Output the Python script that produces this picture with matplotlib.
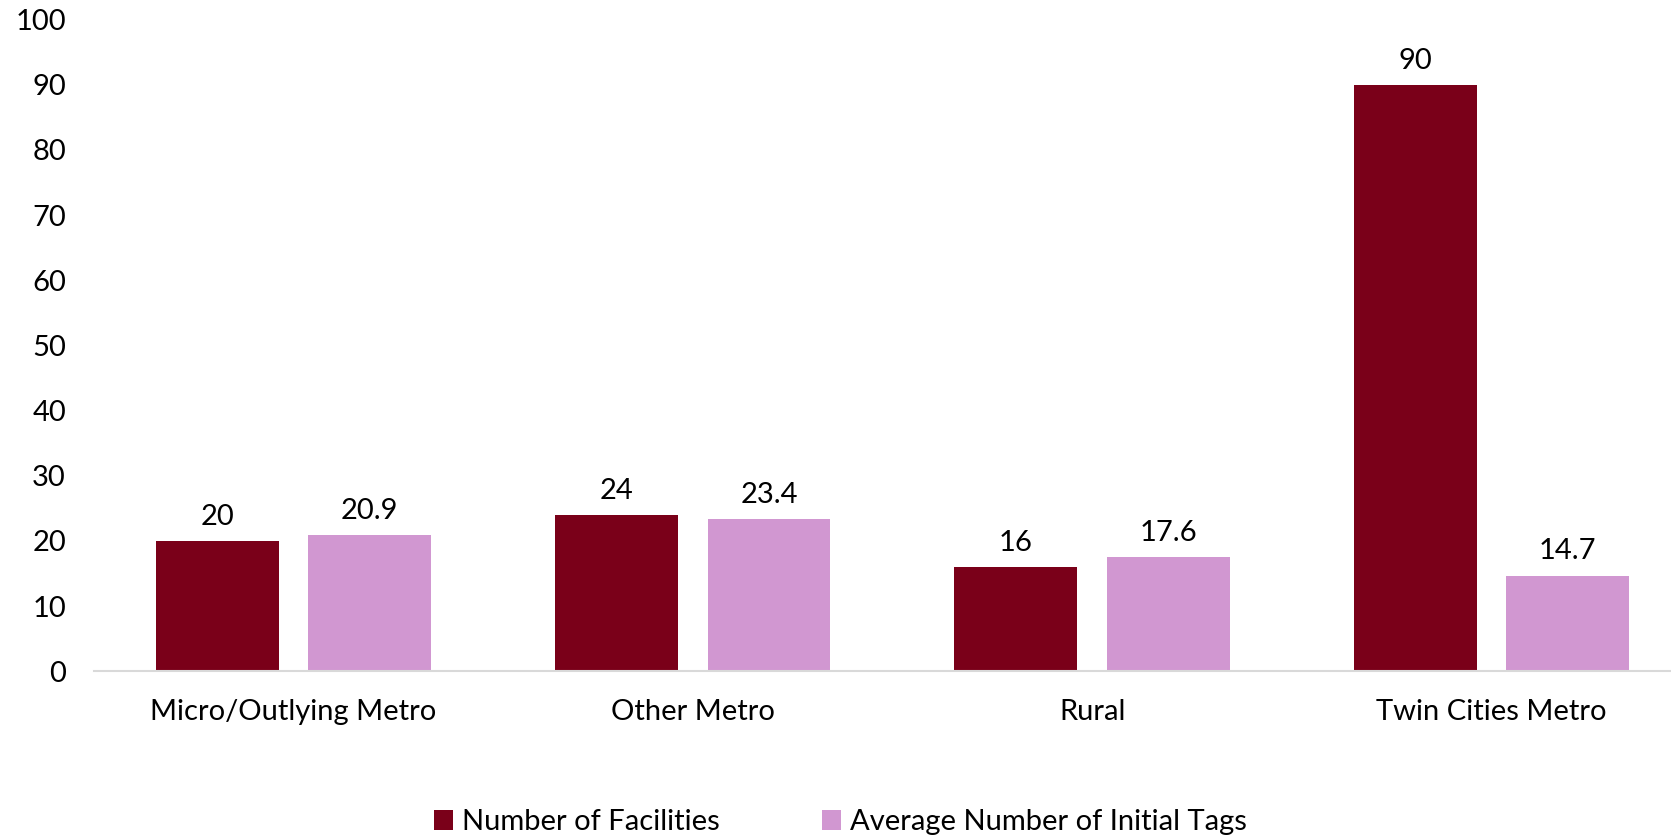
import matplotlib
matplotlib.use("Agg")
import matplotlib.pyplot as plt
import numpy as np

categories = ["Micro/Outlying Metro", "Other Metro", "Rural", "Twin Cities Metro"]
facilities = [20, 24, 16, 90]
avg_tags = [20.9, 23.4, 17.6, 14.7]
facility_labels = ["20", "24", "16", "90"]
tag_labels = ["20.9", "23.4", "17.6", "14.7"]

plt.rcParams["font.family"] = ["Lato", "DejaVu Sans"]

fig = plt.figure(figsize=(16.71, 8.39), dpi=100)
ax = fig.add_axes([0.0561, 0.1998, 0.956, 0.777])

x = np.arange(len(categories))
width = 0.3075
offset = 0.191

dark = "#7A0019"
pink = "#D197D1"

b1 = ax.bar(x - offset, facilities, width, color=dark, label="Number of Facilities")
b2 = ax.bar(x + offset, avg_tags, width, color=pink, label="Average Number of Initial Tags")

ax.bar_label(b1, labels=facility_labels, padding=8, fontsize=21)
ax.bar_label(b2, labels=tag_labels, padding=8, fontsize=21)

ax.set_xlim(-0.5, 3.5)
ax.set_ylim(0, 100)
ax.set_yticks(range(0, 101, 10))
ax.set_xticks(x)
ax.set_xticklabels(categories)
ax.tick_params(axis="both", length=0, labelsize=21)
ax.tick_params(axis="y", pad=20)
ax.tick_params(axis="x", pad=20)

for side in ["top", "right", "left"]:
    ax.spines[side].set_visible(False)
ax.spines["bottom"].set_color("#D9D9D9")
ax.spines["bottom"].set_linewidth(1.5)

fig.legend(
    loc="center",
    bbox_to_anchor=(0.503, 0.02),
    ncol=2,
    frameon=False,
    fontsize=21,
    handlelength=0.65,
    handleheight=0.65,
    handletextpad=0.3,
    columnspacing=3.5,
)

fig.savefig("out.png", dpi=100)
plt.close(fig)
